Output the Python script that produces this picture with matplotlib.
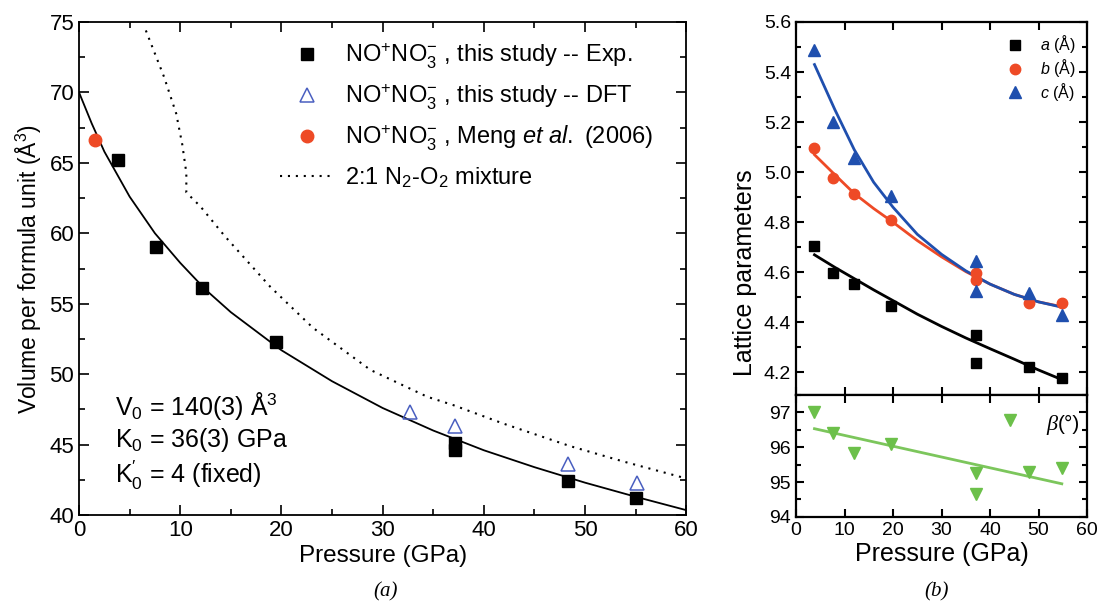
import numpy as np
import matplotlib.pyplot as plt
from matplotlib.ticker import MultipleLocator

plt.rcParams['font.family'] = ['Liberation Sans', 'DejaVu Sans']
plt.rcParams['mathtext.fontset'] = 'custom'
plt.rcParams['mathtext.rm'] = 'Liberation Sans'
plt.rcParams['mathtext.it'] = 'Liberation Sans:italic'
plt.rcParams['mathtext.bf'] = 'Liberation Sans:bold'

# (a) volume per formula unit vs pressure
p_exp = [3.8, 7.6, 12.1, 19.5, 37.1, 37.1, 48.3, 55.0]
v_exp = [65.2, 59.0, 56.1, 52.3, 45.1, 44.6, 42.4, 41.2]
p_dft = [32.7, 37.1, 48.3, 55.1]
v_dft = [47.3, 46.3, 43.6, 42.3]
p_meng = [1.6]
v_meng = [66.6]
# EOS fit curve
p_fit = [0, 1.25, 2.5, 5, 7.5, 10, 12.5, 15, 20, 25, 30, 35, 40, 45, 50, 55, 60]
v_fit = [70.0, 67.8, 65.8, 62.6, 60.0, 57.9, 56.0, 54.4, 51.7, 49.5, 47.6, 46.0,
         44.6, 43.4, 42.3, 41.3, 40.35]
# 2:1 N2-O2 mixture
p_mix = [6.6, 8.4, 9.6, 10.2, 10.6, 10.6, 12.0, 14.4, 18.9, 23.1, 28.8, 34.4,
         37.0, 41.9, 48.5, 53.8, 60.0]
v_mix = [74.4, 71.1, 68.5, 66.3, 64.3, 62.9, 61.9, 59.8, 56.2, 53.3, 50.3, 48.4,
         47.8, 46.5, 44.9, 43.8, 42.6]

# (b) lattice parameters
p_lat = [3.8, 7.6, 12.0, 19.5, 37.1, 37.1, 48.1, 54.8]
a_lat = [4.706, 4.596, 4.552, 4.466, 4.348, 4.239, 4.221, 4.178]
b_lat = [5.098, 4.975, 4.911, 4.810, 4.596, 4.569, 4.476, 4.476]
c_lat = [5.489, 5.202, 5.058, 4.904, 4.645, 4.525, 4.516, 4.429]
p_lfit = [3.8, 8, 12, 16, 20, 25, 30, 35, 40, 45, 50, 55]
a_fit = [4.67, 4.62, 4.575, 4.53, 4.487, 4.433, 4.384, 4.338, 4.295, 4.253, 4.21, 4.17]
b_fit = [5.07, 4.99, 4.915, 4.855, 4.80, 4.727, 4.662, 4.603, 4.553, 4.512, 4.482, 4.462]
c_fit = [5.43, 5.25, 5.09, 4.96, 4.86, 4.752, 4.672, 4.606, 4.553, 4.512, 4.482, 4.46]

p_beta = [3.8, 7.6, 12.0, 19.5, 37.1, 37.1, 44.1, 48.1, 54.8]
beta = [97.02, 96.40, 95.84, 96.09, 95.27, 94.67, 96.79, 95.30, 95.40]
p_bfit = [3.8, 54.8]
beta_fit = [96.53, 94.95]

red = '#ee4a26'
blue = '#1f4fae'
green = '#6cc04a'

fig = plt.figure(figsize=(10.98, 6.11), dpi=100)

# ---------- panel (a)
ax1 = fig.add_axes([0.072, 0.157, 0.553, 0.807])
ax1.plot(p_fit, v_fit, color='k', lw=1.3, zorder=2)
ax1.plot(p_mix, v_mix, color='k', lw=1.5, ls=(0, (1, 2.8)), label='2:1 N$_2$-O$_2$ mixture')
ax1.plot(p_exp, v_exp, 's', color='k', ms=9, ls='none',
         label=r'NO$^{+}$NO$_3^{-}$ , this study -- Exp.')
ax1.plot(p_dft, v_dft, '^', mfc='none', mec='#4a5fc0', mew=1.1, ms=10, ls='none',
         label=r'NO$^{+}$NO$_3^{-}$ , this study -- DFT')
ax1.plot(p_meng, v_meng, 'o', color=red, ms=9, ls='none',
         label=r'NO$^{+}$NO$_3^{-}$ , Meng $\it{et\ al.}$ (2006)')
ax1.set_xlim(0, 60)
ax1.set_ylim(40, 75)
ax1.xaxis.set_major_locator(MultipleLocator(10))
ax1.xaxis.set_minor_locator(MultipleLocator(5))
ax1.yaxis.set_major_locator(MultipleLocator(5))
ax1.yaxis.set_minor_locator(MultipleLocator(2.5))
ax1.tick_params(which='both', direction='in', top=True, right=True, labelsize=16)
ax1.tick_params(which='major', length=7, width=1.2)
ax1.tick_params(which='minor', length=4, width=1.2)
for s in ax1.spines.values():
    s.set_linewidth(1.3)
ax1.set_xlabel('Pressure (GPa)', fontsize=17.5, labelpad=3)
ax1.set_ylabel(r'Volume per formula unit ($\mathrm{\AA}^3$)', fontsize=16.5)

h, l = ax1.get_legend_handles_labels()
order = [1, 2, 3, 0]
ax1.legend([h[i] for i in order], [l[i] for i in order], loc='upper left',
           bbox_to_anchor=(0.316, 0.98), frameon=False, fontsize=17,
           handlelength=2.25, handletextpad=0.5, labelspacing=0.5, borderaxespad=0)

ax1.text(3.6, 47.1, r'V$_0$ = 140(3) $\mathrm{\AA}^3$', fontsize=18, va='baseline')
ax1.text(3.6, 44.8, r'K$_0$ = 36(3) GPa', fontsize=18, va='baseline')
ax1.text(3.6, 42.3, r"K$_0^{\prime}$ = 4 (fixed)", fontsize=18, va='baseline')

# ---------- panel (b) top: lattice parameters
ax2 = fig.add_axes([0.725, 0.3535, 0.265, 0.6105])
ax2.plot(p_lfit, a_fit, color='k', lw=2)
ax2.plot(p_lfit, b_fit, color=red, lw=2)
ax2.plot(p_lfit, c_fit, color=blue, lw=2)
ax2.plot(p_lat, a_lat, 's', color='k', ms=7, ls='none', label=r'$\it{a}$ ($\mathrm{\AA}$)')
ax2.plot(p_lat, b_lat, 'o', color=red, ms=7.5, ls='none', label=r'$\it{b}$ ($\mathrm{\AA}$)')
ax2.plot(p_lat, c_lat, '^', color=blue, ms=8, ls='none', label=r'$\it{c}$ ($\mathrm{\AA}$)')
ax2.set_xlim(0, 60)
ax2.set_ylim(4.11, 5.6)
ax2.xaxis.set_major_locator(MultipleLocator(10))
ax2.yaxis.set_major_locator(MultipleLocator(0.2))
ax2.yaxis.set_minor_locator(MultipleLocator(0.1))
ax2.yaxis.set_major_formatter(plt.FormatStrFormatter('%.1f'))
ax2.tick_params(which='both', direction='in', top=True, right=True, labelsize=14,
                labelbottom=False, width=1.5)
ax2.tick_params(which='major', length=6)
ax2.tick_params(which='minor', length=3.5)
for s in ax2.spines.values():
    s.set_linewidth(1.6)
ax2.set_ylabel('Lattice parameters', fontsize=18)
ax2.yaxis.set_label_coords(-0.134, 0.327)
ax2.legend(loc='upper right', frameon=False, fontsize=11.5, handlelength=1,
           handletextpad=1.1, labelspacing=0.12, borderaxespad=0.3)

# ---------- panel (b) bottom: beta angle
ax3 = fig.add_axes([0.725, 0.154, 0.265, 0.1997])
ax3.plot(p_bfit, beta_fit, color='#7cc65c', lw=2)
ax3.plot(p_beta, beta, 'v', color=green, ms=8, ls='none')
ax3.set_xlim(0, 60)
ax3.set_ylim(94, 97.5)
ax3.xaxis.set_major_locator(MultipleLocator(10))
ax3.yaxis.set_major_locator(MultipleLocator(1))
ax3.yaxis.set_minor_locator(MultipleLocator(0.5))
ax3.tick_params(which='both', direction='in', top=True, right=True, labelsize=14, width=1.5)
ax3.tick_params(which='major', length=6)
ax3.tick_params(which='minor', length=3.5)
for s in ax3.spines.values():
    s.set_linewidth(1.6)
ax3.set_xlabel('Pressure (GPa)', fontsize=18, labelpad=2)
ax3.text(54, 96.65, 'β', fontsize=16, family='Liberation Serif', style='italic',
         ha='right', va='center')
ax3.text(54, 96.65, '(°)', fontsize=15, ha='left', va='center')

fig.text(0.351, 0.023, '(a)', fontsize=15, family='Liberation Serif', style='italic',
         ha='center')
fig.text(0.853, 0.023, '(b)', fontsize=15, family='Liberation Serif', style='italic',
         ha='center')

fig.savefig('out.png', dpi=100)
